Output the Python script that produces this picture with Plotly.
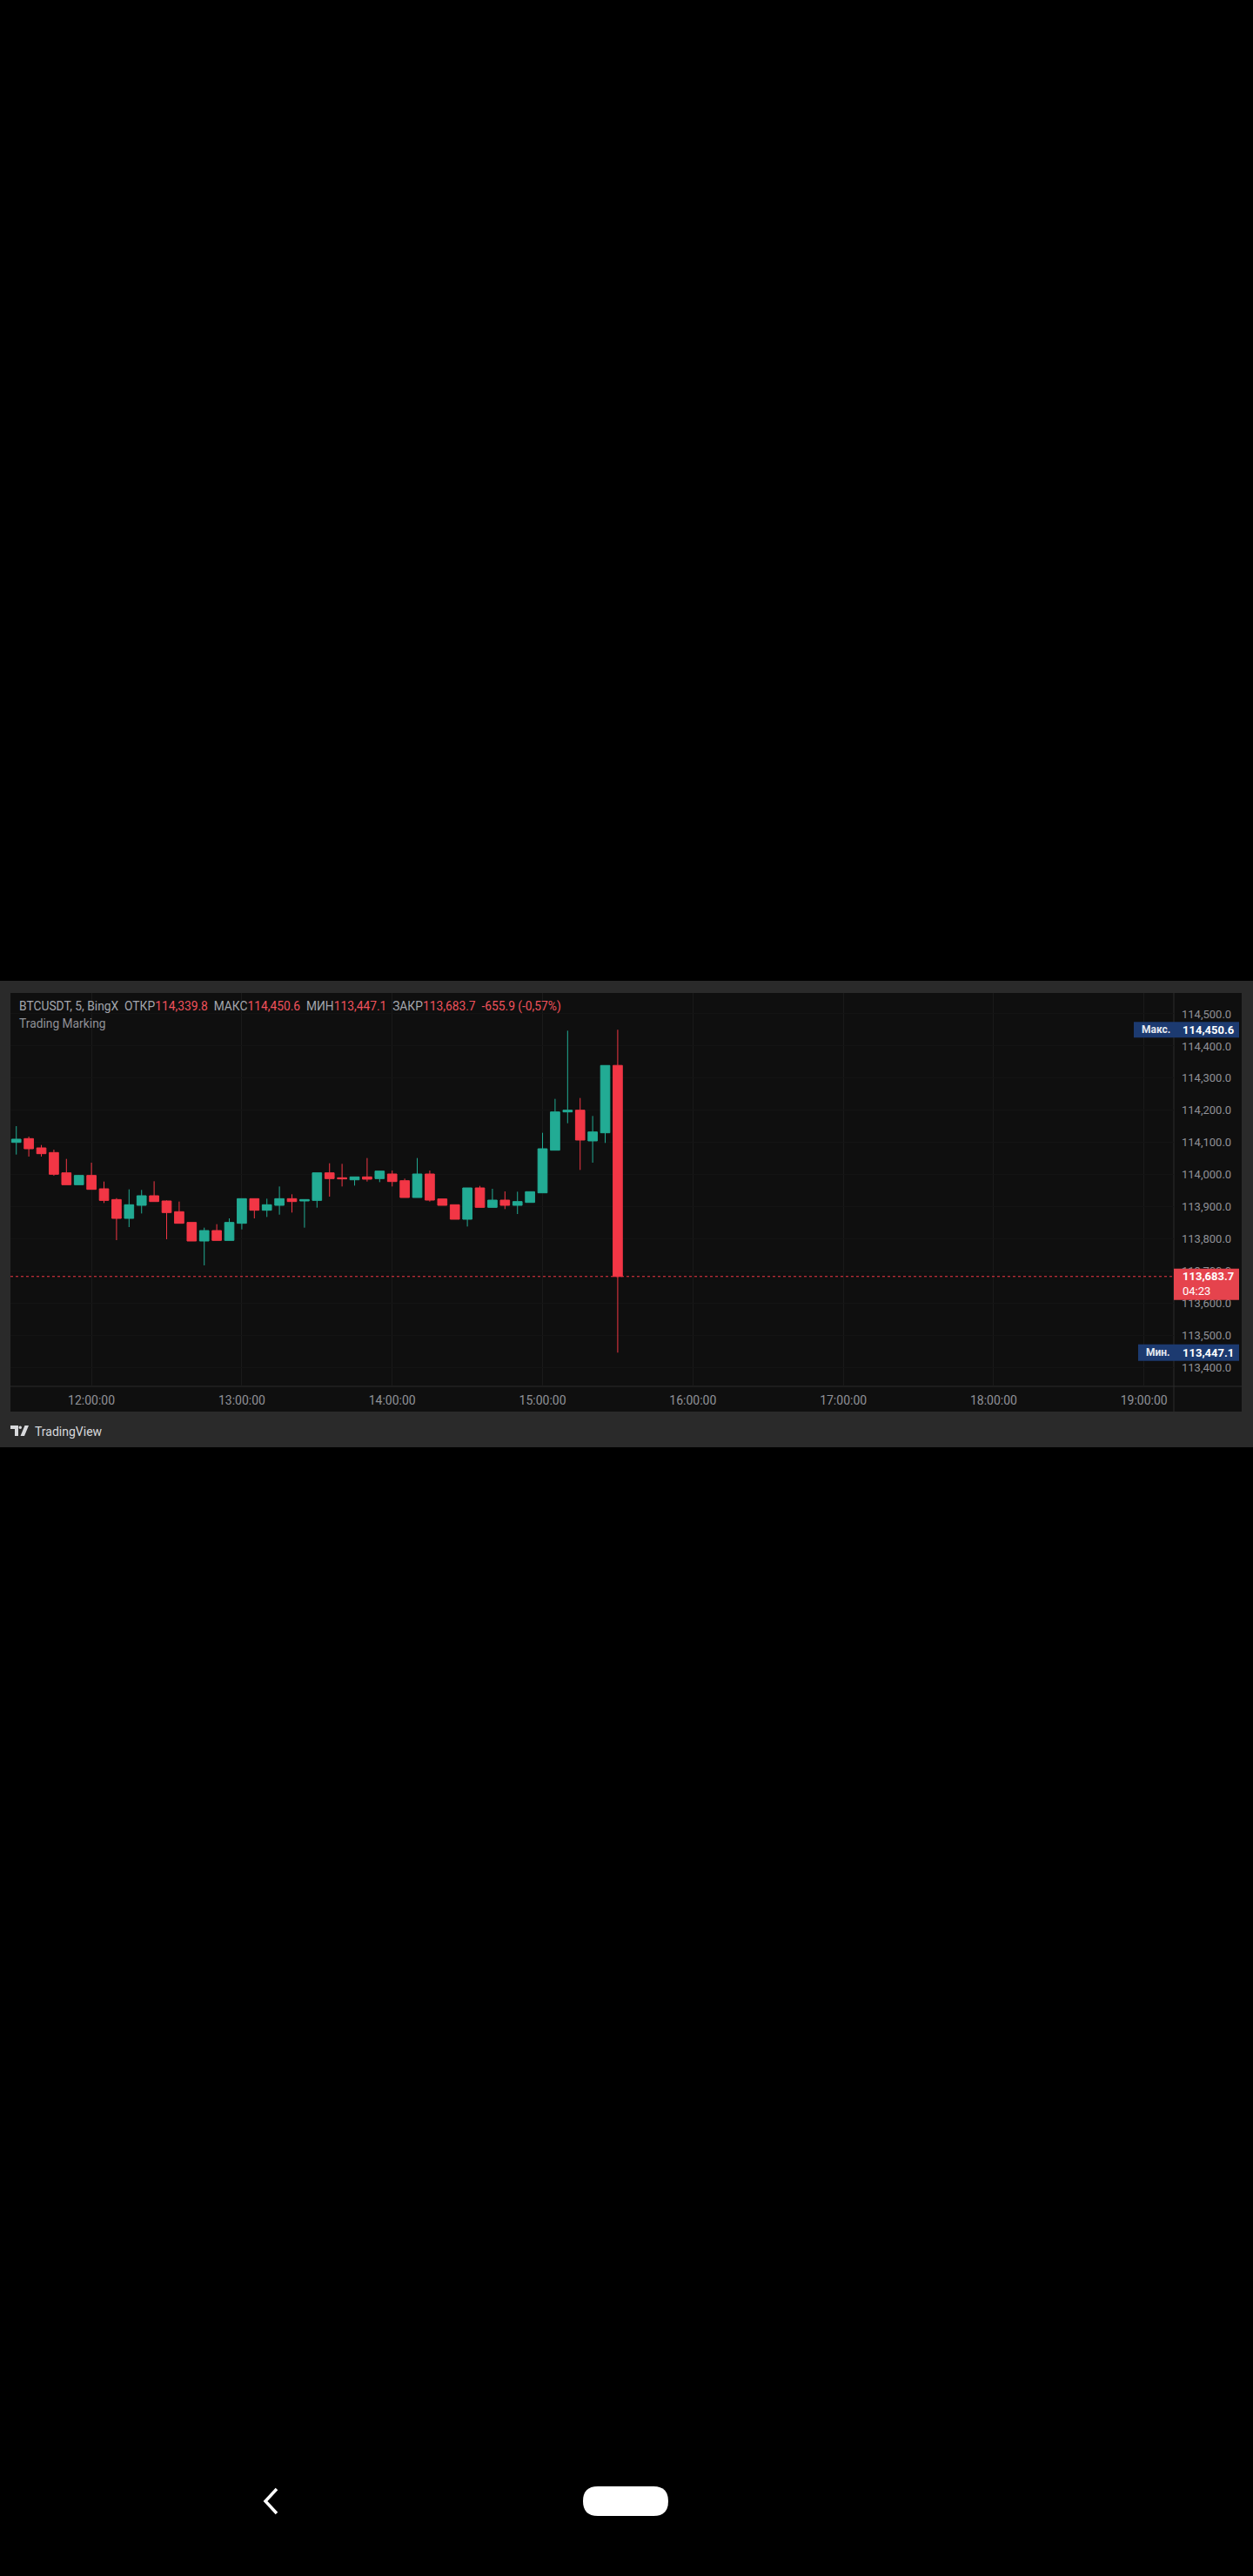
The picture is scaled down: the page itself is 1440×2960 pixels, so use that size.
import plotly.graph_objects as go

# ---------------- data ----------------
DAY = "2025-08-04"
times = ["11:30", "11:35", "11:40", "11:45", "11:50", "11:55",
         "12:00", "12:05", "12:10", "12:15", "12:20", "12:25",
         "12:30", "12:35", "12:40", "12:45", "12:50", "12:55",
         "13:00", "13:05", "13:10", "13:15", "13:20", "13:25",
         "13:30", "13:35", "13:40", "13:45", "13:50", "13:55",
         "14:00", "14:05", "14:10", "14:15", "14:20", "14:25",
         "14:30", "14:35", "14:40", "14:45", "14:50", "14:55",
         "15:00", "15:05", "15:10", "15:15", "15:20", "15:25",
         "15:30"]
opens = [114100.5, 114112.3, 114083.4, 114069.0, 114005.9, 113968.9,
         113997.8, 113956.3, 113922.9, 113864.3, 113904.9, 113934.7,
         113918.4, 113885.1, 113851.7, 113794.0, 113826.5, 113795.8,
         113849.0, 113925.6, 113889.6, 113904.9, 113925.6, 113918.4,
         113920.2, 114005.9, 113990.6, 113984.2, 113993.3, 113987.9,
         114002.3, 113981.5, 113929.2, 114002.3, 113924.7, 113906.7,
         113861.6, 113959.0, 113898.6, 113921.1, 113904.9, 113913.9,
         113943.7, 114076.2, 114195.2, 114200.6, 114105.1, 114130.3,
         114339.8]
highs = [114151.0, 114118.6, 114092.4, 114078.0, 114049.2, 113999.6,
         114037.4, 113978.8, 113927.4, 113954.5, 113952.7, 113979.7,
         113920.2, 113916.6, 113851.7, 113835.5, 113846.3, 113864.3,
         113925.6, 113925.6, 113925.6, 113963.5, 113939.2, 113922.9,
         114005.9, 114035.6, 114033.8, 113993.3, 114051.9, 114011.3,
         114013.1, 113987.9, 114051.9, 114013.1, 113924.7, 113906.7,
         113959.0, 113965.3, 113956.3, 113948.2, 113947.3, 113947.3,
         114130.3, 114235.8, 114447.7, 114238.5, 114182.6, 114339.6,
         114450.6]
lows = [114062.7, 114056.4, 114056.4, 113996.9, 113968.9, 113968.9,
        113954.5, 113912.1, 113796.7, 113837.3, 113879.6, 113916.6,
        113799.4, 113849.0, 113794.0, 113718.3, 113795.8, 113795.8,
        113830.1, 113864.3, 113868.8, 113876.0, 113882.4, 113835.5,
        113897.7, 113932.0, 113963.5, 113966.2, 113978.8, 113977.0,
        113963.5, 113929.2, 113929.2, 113916.6, 113904.9, 113861.6,
        113839.1, 113898.6, 113898.6, 113893.2, 113877.8, 113913.9,
        113943.7, 114076.2, 114160.1, 114014.9, 114037.5, 114098.8,
        113447.1]
closes = [114110.5, 114080.7, 114065.4, 114001.4, 113968.9, 113997.8,
          113954.5, 113920.2, 113864.3, 113906.7, 113934.7, 113916.6,
          113882.4, 113849.0, 113794.0, 113826.5, 113795.8, 113851.7,
          113925.6, 113889.6, 113906.7, 113925.6, 113916.6, 113922.9,
          114005.9, 113987.9, 113987.0, 113993.3, 113986.1, 114011.3,
          113978.8, 113929.2, 114002.3, 113921.1, 113904.9, 113861.6,
          113959.0, 113898.6, 113921.1, 113904.9, 113916.6, 113947.3,
          114080.7, 114195.2, 114200.6, 114107.8, 114133.0, 114339.6,
          113683.7]
hour_ticks = ["12:00", "13:00", "14:00", "15:00", "16:00", "17:00", "18:00", "19:00"]
price_ticks = [113400, 113500, 113600, 113700, 113800, 113900, 114000,
               114100, 114200, 114300, 114400, 114500]
x_range = ["11:27:40", "19:11:54"]
y_range = [113342.3, 114564.9]
symbol = "BTCUSDT, 5, BingX"
indicator = "Trading Marking"
countdown = "04:23"

# ---------------- style ----------------
UP = "#22ab94"
DOWN = "#f23645"
RED_TXT = "#f0525c"
GREY = "#a3a6ad"
AXIS_TXT = "#8f9197"
PANEL = "#2a2a2a"
INNER = "#0f0f0f"
SEP = "#2c2c2c"
FONT = "Roboto"

W, H = 1440, 2960
PL, PR, PT, PB = 12, 1349, 1141, 1593


def px(x):
    return (x - PL) / (PR - PL)


def py(y):
    return (PB - y) / (PB - PT)


x_vals = [f"{DAY} {t}" for t in times]
fig = go.Figure()
fig.add_trace(go.Candlestick(
    x=x_vals, open=opens, high=highs, low=lows, close=closes,
    increasing=dict(line=dict(color=UP, width=1), fillcolor=UP),
    decreasing=dict(line=dict(color=DOWN, width=1), fillcolor=DOWN),
    whiskerwidth=0, showlegend=False, hoverinfo="skip",
))

last_o, last_h, last_l, last_c = opens[-1], highs[-1], lows[-1], closes[-1]
prev_c = closes[-2]
chg = last_c - prev_c
pct = chg / prev_c * 100
hi_all = max(highs)
lo_all = min(lows)


def f1(v):
    return f"{v:,.1f}"


sp = "\u00a0\u00a0"
pct_txt = f"{pct:.2f}".replace(".", ",")
header = (f"{symbol}{sp}ОТКР<span style='color:{RED_TXT}'>{f1(last_o)}</span>{sp}"
          f"МАКС<span style='color:{RED_TXT}'>{f1(last_h)}</span>{sp}"
          f"МИН<span style='color:{RED_TXT}'>{f1(last_l)}</span>{sp}"
          f"ЗАКР<span style='color:{RED_TXT}'>{f1(last_c)}</span>{sp}"
          f"<span style='color:{RED_TXT}'>{chg:.1f} ({pct_txt}%)</span>")

ppu = (PB - PT) / (y_range[1] - y_range[0])  # px per price unit

shapes = [
    dict(type="rect", xref="paper", yref="paper", x0=px(0), x1=px(1440), y0=py(1663), y1=py(1127),
         fillcolor=PANEL, line=dict(width=0), layer="below"),
    dict(type="rect", xref="paper", yref="paper", x0=px(12), x1=px(1427), y0=py(1622), y1=py(1141),
         fillcolor=INNER, line=dict(width=0), layer="below"),
    dict(type="line", xref="paper", yref="paper", x0=px(1349), x1=px(1349), y0=py(1622), y1=py(1141),
         line=dict(color=SEP, width=1), layer="below"),
    dict(type="line", xref="paper", yref="paper", x0=px(12), x1=px(1427), y0=py(1593), y1=py(1593),
         line=dict(color=SEP, width=1), layer="below"),
    dict(type="line", xref="paper", yref="y", x0=0, x1=1, y0=last_c, y1=last_c,
         line=dict(color=DOWN, width=1, dash="dot"), layer="above"),
    # max label
    dict(type="rect", xref="paper", yref="y", x0=px(1303), x1=px(1424),
         y0=hi_all - 9 / ppu, y1=hi_all + 9 / ppu, fillcolor="#1c3a70", line=dict(width=0), layer="above"),
    # min label
    dict(type="rect", xref="paper", yref="y", x0=px(1308), x1=px(1424),
         y0=lo_all - 9.5 / ppu, y1=lo_all + 9.5 / ppu, fillcolor="#1c3a70", line=dict(width=0), layer="above"),
    # close label
    dict(type="rect", xref="paper", yref="y", x0=px(1349), x1=px(1424),
         y0=last_c - 27 / ppu, y1=last_c + 9 / ppu, fillcolor="#e5434d", line=dict(width=0), layer="above"),
    # TradingView logo
    dict(type="path", xref="paper", yref="paper", layer="above", fillcolor="#d8d9dc", line=dict(width=0),
         path=(f"M {px(12)} {py(1638)} L {px(21)} {py(1638)} L {px(21)} {py(1650)} L {px(17)} {py(1650)} "
               f"L {px(17)} {py(1642)} L {px(12)} {py(1642)} Z")),
    dict(type="circle", xref="paper", yref="paper", layer="above", fillcolor="#d8d9dc", line=dict(width=0),
         x0=px(21.5), x1=px(25), y0=py(1642), y1=py(1638.5)),
    dict(type="path", xref="paper", yref="paper", layer="above", fillcolor="#d8d9dc", line=dict(width=0),
         path=(f"M {px(23.5)} {py(1650)} L {px(28)} {py(1650)} L {px(33)} {py(1638)} L {px(28.5)} {py(1638)} Z")),
    # android nav pill
    dict(type="path", xref="paper", yref="paper", layer="above", fillcolor="#ffffff", line=dict(width=0),
         path=(f"M {px(687)} {py(2857)} L {px(751)} {py(2857)} "
               f"Q {px(768)} {py(2857)} {px(768)} {py(2874)} Q {px(768)} {py(2891)} {px(751)} {py(2891)} "
               f"L {px(687)} {py(2891)} Q {px(670)} {py(2891)} {px(670)} {py(2874)} "
               f"Q {px(670)} {py(2857)} {px(687)} {py(2857)} Z")),
    dict(type="path", xref="paper", yref="paper", layer="above", line=dict(color="#ffffff", width=3.5),
         path=f"M {px(318)} {py(2860)} L {px(305)} {py(2874)} L {px(318)} {py(2888)}"),
]

annotations = [
    dict(text=header, xref="paper", yref="paper", x=px(20), y=py(1156), xanchor="left", yanchor="middle",
         showarrow=False, font=dict(family=FONT, size=13.8, color=GREY)),
    dict(text=indicator, xref="paper", yref="paper", x=px(20), y=py(1176), xanchor="left", yanchor="middle",
         showarrow=False, font=dict(family=FONT, size=13.8, color="#8f9197")),
    dict(text="<b>Макс.</b>", xref="paper", yref="y", x=px(1310), y=hi_all, xanchor="left", yanchor="middle",
         showarrow=False, font=dict(family=FONT, size=12, color="#e6e9f0")),
    dict(text=f"<b>{f1(hi_all)}</b>", xref="paper", yref="y", x=px(1357), y=hi_all, xanchor="left",
         yanchor="middle", showarrow=False, font=dict(family=FONT, size=13, color="#ffffff")),
    dict(text="<b>Мин.</b>", xref="paper", yref="y", x=px(1315), y=lo_all, xanchor="left", yanchor="middle",
         showarrow=False, font=dict(family=FONT, size=12, color="#e6e9f0")),
    dict(text=f"<b>{f1(lo_all)}</b>", xref="paper", yref="y", x=px(1357), y=lo_all, xanchor="left",
         yanchor="middle", showarrow=False, font=dict(family=FONT, size=13, color="#ffffff")),
    dict(text=f"<b>{f1(last_c)}</b>", xref="paper", yref="y", x=px(1357), y=last_c, xanchor="left",
         yanchor="middle", showarrow=False, font=dict(family=FONT, size=13, color="#ffffff")),
    dict(text=countdown, xref="paper", yref="y", x=px(1357), y=last_c - 17 / ppu, xanchor="left",
         yanchor="middle", showarrow=False, font=dict(family=FONT, size=13, color="#ffffff")),
    dict(text="TradingView", xref="paper", yref="paper", x=px(38), y=py(1645), xanchor="left",
         yanchor="middle", showarrow=False, font=dict(family=FONT, size=14, color="#d8d9dc")),
]

fig.update_layout(
    width=W, height=H,
    margin=dict(l=PL, r=W - PR, t=PT, b=H - PB, pad=0),
    paper_bgcolor="#000000", plot_bgcolor=INNER,
    boxgap=0.26, boxgroupgap=0,
    showlegend=False,
    shapes=shapes, annotations=annotations,
    xaxis=dict(
        type="date", range=[f"{DAY} {x_range[0]}", f"{DAY} {x_range[1]}"],
        tickvals=[f"{DAY} {t}" for t in hour_ticks], tickformat="%H:%M:%S",
        showgrid=True, gridcolor="#1a1a1a", gridwidth=1, zeroline=False, showline=False,
        ticks="", ticklabelstandoff=6, rangeslider=dict(visible=False),
        tickfont=dict(family=FONT, size=14, color=AXIS_TXT), fixedrange=True,
    ),
    yaxis=dict(
        side="right", range=y_range, tickvals=price_ticks, tickformat=",.1f",
        showgrid=True, gridcolor="#141414", zeroline=False, showline=False,
        ticks="", ticklabelstandoff=8,
        tickfont=dict(family=FONT, size=13, color=AXIS_TXT), fixedrange=True,
    ),
)

fig.write_html(
    "out.html",
    config={"displayModeBar": False},
    post_script="document.body.style.margin='0';document.body.style.background='#000';",
)
